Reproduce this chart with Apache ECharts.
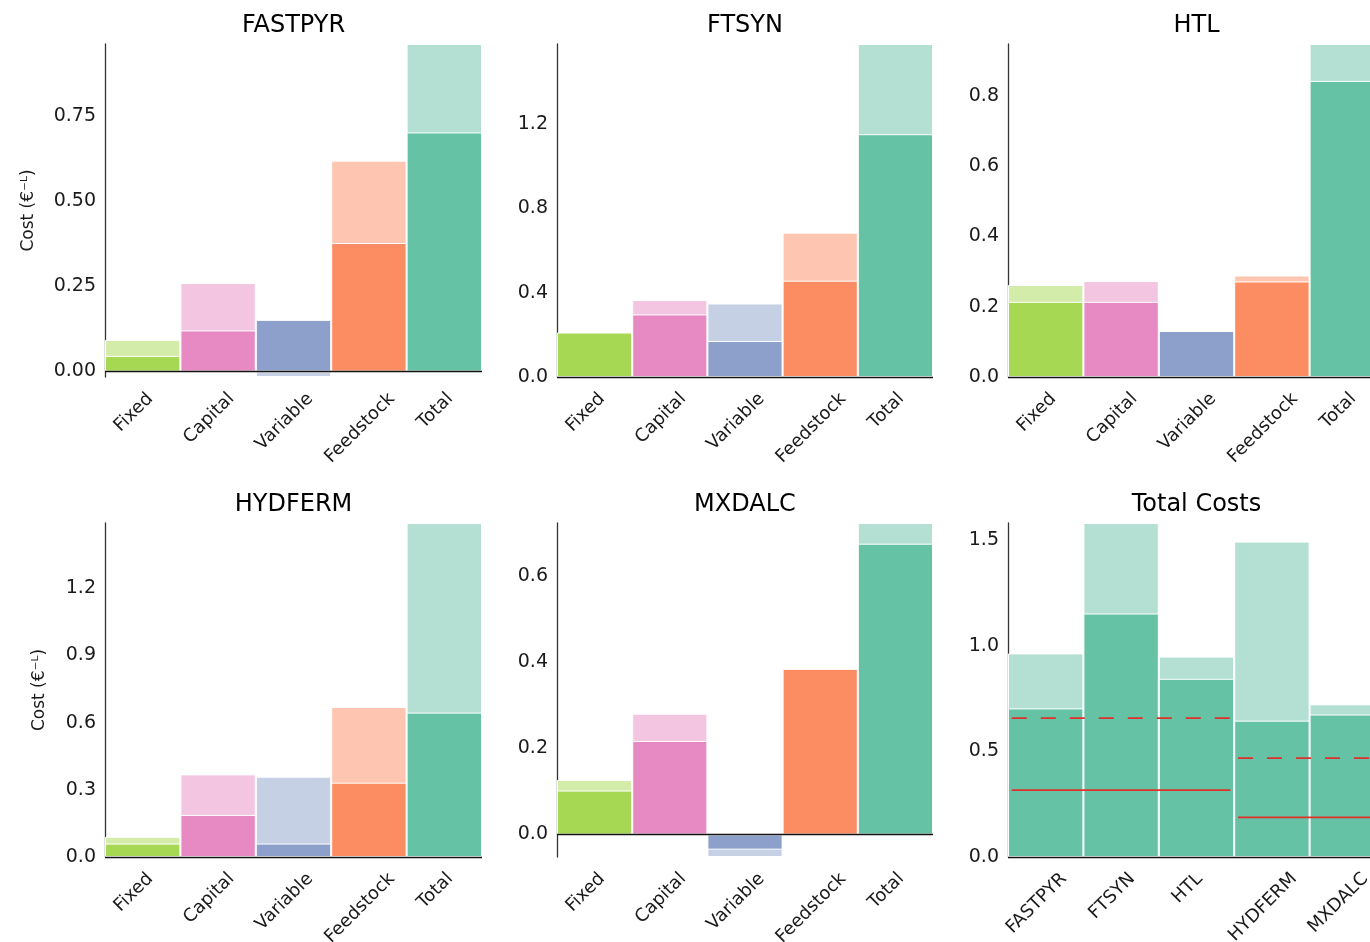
<!DOCTYPE html>
<html><head><meta charset="utf-8">
<script src="https://cdn.jsdelivr.net/npm/echarts@6/dist/echarts.min.js"></script>
<style>html,body{margin:0;padding:0;background:#fff}#c{width:1370px;height:942px}</style>
</head><body><div id="c"></div>
<script>
// ---------------- DATA ----------------
const costCategories = ['Fixed', 'Capital', 'Variable', 'Feedstock', 'Total'];
const processes = ['FASTPYR', 'FTSYN', 'HTL', 'HYDFERM', 'MXDALC'];

// darker bars (lower scenario) and lighter bars (upper scenario), € per L
const lowFASTPYR  = [0.046, 0.121, 0.152, 0.378, 0.703];
const highFASTPYR = [0.093, 0.260, -0.016, 0.620, 0.963];
const lowFTSYN    = [0.211, 0.297, 0.171, 0.457, 1.152];
const highFTSYN   = [0.205, 0.365, 0.349, 0.685, 1.580];
const lowHTL      = [0.214, 0.214, 0.131, 0.272, 0.843];
const highHTL     = [0.262, 0.273, 0.125, 0.289, 0.948];
const lowHYDFERM  = [0.060, 0.188, 0.060, 0.332, 0.645];
const highHYDFERM = [0.090, 0.369, 0.359, 0.670, 1.492];
const lowMXDALC   = [0.102, 0.217, -0.035, 0.384, 0.674];
const highMXDALC  = [0.1265, 0.280, -0.052, 0.375, 0.722];

// tick labels
const ticksFASTPYR = ['0.00', '0.25', '0.50', '0.75'];
const ticksFTSYN   = ['0.0', '0.4', '0.8', '1.2'];
const ticksHTL     = ['0.0', '0.2', '0.4', '0.6', '0.8'];
const ticksHYDFERM = ['0.0', '0.3', '0.6', '0.9', '1.2'];
const ticksMXDALC  = ['0.0', '0.2', '0.4', '0.6'];
const ticksTotal   = ['0.0', '0.5', '1.0', '1.5'];

// reference lines in the Total Costs panel (process groups first..last)
const refFirst  = [0, 3];
const refLast   = [2, 4];
const refSolid  = [0.316, 0.187];
const refDashed = [0.657, 0.468];

// ---------------- STYLE / LAYOUT ----------------
const baseColors  = ['#a6d854', '#e78ac3', '#8da0cb', '#fc8d62', '#66c2a5'];
const lightColors = ['#d3ecaa', '#f3c5e1', '#c6d0e5', '#fec6b1', '#b3e0d2'];
const FONT = '"DejaVu Sans", "Noto Sans", sans-serif';
const TICK_FS = 19, LABEL_FS = 18, NAME_FS = 17, TITLE_FS = 24, DX = -9;
const colLeft = [105, 557, 1008], colW = [377, 376, 377];
const rowTop = [44, 523], rowH = [333, 334];

const lowByProcess  = [lowFASTPYR, lowFTSYN, lowHTL, lowHYDFERM, lowMXDALC];
const highByProcess = [highFASTPYR, highFTSYN, highHTL, highHYDFERM, highMXDALC];
const totalIdx = costCategories.indexOf('Total');
const totalLow  = lowByProcess.map(a => a[totalIdx]);
const totalHigh = highByProcess.map(a => a[totalIdx]);

const panels = [
  {title: 'FASTPYR', cats: costCategories, low: lowFASTPYR, high: highFASTPYR, ticks: ticksFASTPYR, ylabel: true, nameGap: 68},
  {title: 'FTSYN', cats: costCategories, low: lowFTSYN, high: highFTSYN, ticks: ticksFTSYN},
  {title: 'HTL', cats: costCategories, low: lowHTL, high: highHTL, ticks: ticksHTL},
  {title: 'HYDFERM', cats: costCategories, low: lowHYDFERM, high: highHYDFERM, ticks: ticksHYDFERM, ylabel: true, nameGap: 57},
  {title: 'MXDALC', cats: costCategories, low: lowMXDALC, high: highMXDALC, ticks: ticksMXDALC},
  {title: 'Total Costs', cats: processes, low: totalLow, high: totalHigh, ticks: ticksTotal, mono: true}
];

const measureCtx = document.createElement('canvas').getContext('2d');
measureCtx.font = LABEL_FS + 'px ' + FONT;
function labelRich(cats) {
  const rich = {};
  cats.forEach((c, i) => {
    const L = measureCtx.measureText(c).width;
    const a = (DX * Math.SQRT2 - L / 2) / 2;
    const b = (DX * Math.SQRT2 + L / 2) / 2;
    rich['c' + i] = {
      fontSize: LABEL_FS, fontFamily: FONT, color: '#1a1a1a',
      padding: [Math.max(0, 2 * b), Math.max(0, -2 * a), Math.max(0, -2 * b), Math.max(0, 2 * a)]
    };
  });
  return rich;
}

const grids = [], xAxes = [], yAxes = [], series = [], titles = [];
panels.forEach((p, i) => {
  const r = Math.floor(i / 3), c = i % 3;
  grids.push({left: colLeft[c], top: rowTop[r], width: colW[c], height: rowH[r],
    containLabel: false, outerBoundsMode: 'none'});
  titles.push({
    text: p.title, left: colLeft[c] + colW[c] / 2, top: rowTop[r] - 30, textAlign: 'center', padding: 0,
    textStyle: {fontSize: TITLE_FS, fontWeight: 'normal', color: '#000', fontFamily: FONT}
  });
  xAxes.push({
    type: 'category', gridIndex: i, data: p.cats,
    axisLine: {show: false, onZero: false}, axisTick: {show: false}, splitLine: {show: false},
    axisLabel: {
      interval: 0, rotate: 45, align: 'center', verticalAlign: 'middle', margin: 19,
      fontSize: LABEL_FS, fontFamily: FONT, color: '#1a1a1a',
      formatter: (v, idx) => '{c' + idx + '|' + v + '}', rich: labelRich(p.cats)
    }
  });
  const all = p.low.concat(p.high);
  const tickVals = p.ticks.map(Number);
  const dec = (p.ticks[0].split('.')[1] || '').length;
  yAxes.push({
    type: 'value', gridIndex: i, min: Math.min(0, ...all), max: Math.max(...all),
    axisLine: {show: true, onZero: false, lineStyle: {color: '#333', width: 1.3}},
    axisTick: {show: false}, splitLine: {show: false},
    axisLabel: {customValues: tickVals, formatter: v => v.toFixed(dec), fontSize: TICK_FS, fontFamily: FONT, color: '#1a1a1a', margin: 9},
    name: p.ylabel ? 'Cost (€⁻ᴸ)' : '', nameLocation: 'middle', nameGap: p.nameGap || 0,
    nameTextStyle: {fontSize: NAME_FS, fontFamily: FONT, color: '#1a1a1a'}
  });
  const colorOf = (pal) => (params) => p.mono ? pal[4] : pal[params.dataIndex];
  series.push({
    type: 'bar', xAxisIndex: i, yAxisIndex: i, data: p.high,
    barGap: '-100%', barCategoryGap: '0%',
    itemStyle: {color: colorOf(lightColors), borderColor: '#fff', borderWidth: 1}
  });
  series.push({
    type: 'bar', xAxisIndex: i, yAxisIndex: i, data: p.low,
    barGap: '-100%', barCategoryGap: '0%',
    itemStyle: {color: colorOf(baseColors), borderColor: '#fff', borderWidth: 1},
    markLine: {silent: true, symbol: ['none', 'none'], label: {show: false},
      lineStyle: {color: '#111', width: 1.3, type: 'solid'}, data: [{yAxis: 0}]}
  });
});

// value x-axis over the Total Costs grid for the reference lines
const refAxisIdx = xAxes.length;
xAxes.push({type: 'value', gridIndex: 5, min: -0.5, max: processes.length - 0.5, show: false});
refFirst.forEach((f, k) => {
  const x0 = f - 0.45, x1 = refLast[k] + 0.45;
  series.push({type: 'line', xAxisIndex: refAxisIdx, yAxisIndex: 5, symbol: 'none', z: 5,
    data: [[x0, refDashed[k]], [x1, refDashed[k]]],
    lineStyle: {color: '#e0302a', width: 1.8, type: [15, 14]}});
  series.push({type: 'line', xAxisIndex: refAxisIdx, yAxisIndex: 5, symbol: 'none', z: 5,
    data: [[x0, refSolid[k]], [x1, refSolid[k]]],
    lineStyle: {color: '#e0302a', width: 1.8, type: 'solid'}});
});

const chart = echarts.init(document.getElementById('c'), null, {renderer: 'canvas'});
chart.setOption({
  animation: false,
  backgroundColor: '#fff',
  textStyle: {fontFamily: FONT},
  title: titles, grid: grids, xAxis: xAxes, yAxis: yAxes, series: series
});
</script></body></html>
